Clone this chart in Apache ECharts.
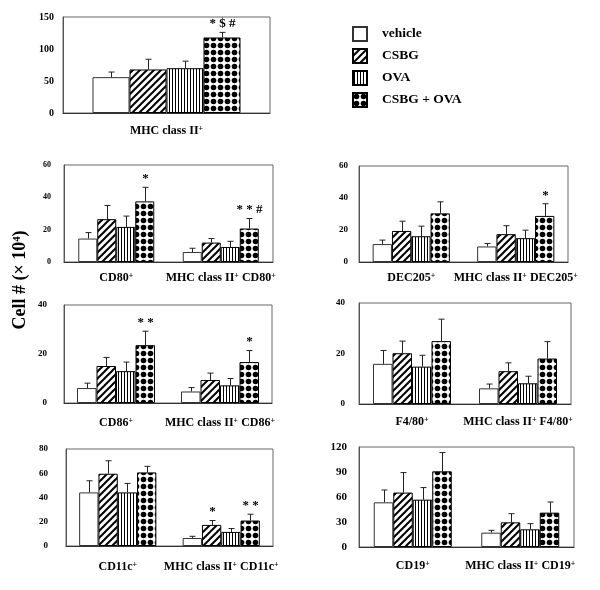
<!DOCTYPE html>
<html><head><meta charset="utf-8">
<script src="https://cdn.jsdelivr.net/npm/echarts@6/dist/echarts.min.js"></script>
<style>html,body{margin:0;padding:0;background:#fff}#c{width:600px;height:590px}</style>
</head><body><div id="c"></div>
<script>
// ---------- data ----------
const seriesNames = ['vehicle', 'CSBG', 'OVA', 'CSBG + OVA'];
const yTitle = 'Cell # (× 10⁴)';

const mhcCats = ['MHC class II+'];
const mhcMeans = [[56], [68], [70], [118]];
const mhcSD = [[8], [16], [11], [8]];
const mhcMarks = [[''], [''], [''], ['* $ #']];
const mhcAxis = [0, 150, 50];

const cd80Cats = ['CD80+', 'MHC class II+ CD80+'];
const cd80Means = [[14.5, 6.2], [26.5, 12], [21.7, 9.3], [37.5, 20.7]];
const cd80SD = [[3.7, 2.3], [8.5, 2.5], [6.7, 3.5], [8.7, 6.2]];
const cd80Marks = [['', ''], ['', ''], ['', ''], ['*', '* * #']];
const cd80Axis = [0, 60, 20];

const dec205Cats = ['DEC205+', 'MHC class II+ DEC205+'];
const dec205Means = [[11.2, 9.7], [19.4, 17.4], [16.1, 14.9], [30.4, 28.8]];
const dec205SD = [[2.5, 1.9], [6.1, 5.3], [6.3, 5.0], [7.2, 7.6]];
const dec205Marks = [['', ''], ['', ''], ['', ''], ['', '*']];
const dec205Axis = [0, 60, 20];

const cd86Cats = ['CD86+', 'MHC class II+ CD86+'];
const cd86Means = [[6.1, 4.7], [15.1, 9.4], [13.0, 7.2], [23.6, 16.7]];
const cd86SD = [[2.0, 1.6], [3.5, 2.8], [3.7, 2.8], [5.7, 4.7]];
const cd86Marks = [['', ''], ['', ''], ['', ''], ['* *', '*']];
const cd86Axis = [0, 40, 20];

const f480Cats = ['F4/80+', 'MHC class II+ F4/80+'];
const f480Means = [[15.9, 6.2], [20.1, 13.0], [14.8, 8.2], [24.9, 18.0]];
const f480SD = [[5.3, 1.7], [4.8, 3.3], [4.5, 2.8], [8.7, 6.7]];
const f480Marks = [['', ''], ['', ''], ['', ''], ['', '']];
const f480Axis = [0, 40, 20];

const cd11cCats = ['CD11c+', 'MHC class II+ CD11c+'];
const cd11cMeans = [[44.2, 6.6], [59.6, 17.4], [44.2, 11.6], [60.7, 21.0]];
const cd11cSD = [[9.6, 1.4], [10.7, 3.6], [7.4, 2.8], [5.0, 5.2]];
const cd11cMarks = [['', ''], ['', '*'], ['', ''], ['', '* *']];
const cd11cAxis = [0, 80, 20];

const cd19Cats = ['CD19+', 'MHC class II+ CD19+'];
const cd19Means = [[53.6, 17.2], [65.3, 29.6], [56.8, 21.2], [90.8, 41.2]];
const cd19SD = [[14.8, 2.8], [24, 10.4], [14.5, 6.8], [22.5, 12.8]];
const cd19Marks = [['', ''], ['', ''], ['', ''], ['', '']];
const cd19Axis = [0, 120, 30];

// ---------- styles ----------
const SERIF = '"Liberation Serif", "Times New Roman", serif';

function makeCanvas(w, h, draw) {
  const c = document.createElement('canvas');
  c.width = w; c.height = h;
  const g = c.getContext('2d');
  g.fillStyle = '#fff'; g.fillRect(0, 0, w, h);
  draw(g);
  return c;
}
const hatchCanvas = makeCanvas(7, 7, g => {
  g.strokeStyle = '#000'; g.lineWidth = 2;
  g.beginPath();
  g.moveTo(-1, 8); g.lineTo(8, -1);
  g.moveTo(-4, 4); g.lineTo(4, -4);
  g.moveTo(3, 11); g.lineTo(11, 3);
  g.stroke();
});
const vlineCanvas = makeCanvas(3, 3, g => {
  g.fillStyle = '#000'; g.fillRect(1, 0, 1, 3);
});
const dotCanvas = makeCanvas(7, 7, g => {
  g.fillStyle = '#000';
  g.beginPath(); g.arc(3.5, 3.5, 2.8, 0, Math.PI * 2); g.fill();
});
const fills = [
  '#ffffff',
  { image: hatchCanvas, repeat: 'repeat' },
  { image: vlineCanvas, repeat: 'repeat' },
  { image: dotCanvas, repeat: 'repeat' }
];
const borders = ['#333', '#000', '#000', '#000'];

const panels = [
  { cats: mhcCats, means: mhcMeans, sd: mhcSD, marks: mhcMarks, axis: mhcAxis,
    grid: { left: 63, top: 17, width: 207, height: 96 }, bw: 37, yFont: 10, yMargin: 9, xMargin: 12 },
  { cats: cd80Cats, means: cd80Means, sd: cd80SD, marks: cd80Marks, axis: cd80Axis,
    grid: { left: 64, top: 165, width: 209, height: 97 }, bw: 19, yFont: 8, yMargin: 13, xMargin: 10 },
  { cats: dec205Cats, means: dec205Means, sd: dec205SD, marks: dec205Marks, axis: dec205Axis,
    grid: { left: 359, top: 166, width: 209, height: 96 }, bw: 19.3, yFont: 9, yMargin: 11, xMargin: 10 },
  { cats: cd86Cats, means: cd86Means, sd: cd86SD, marks: cd86Marks, axis: cd86Axis,
    grid: { left: 64, top: 305, width: 208, height: 98 }, bw: 19.5, yFont: 9, yMargin: 17, xMargin: 14 },
  { cats: f480Cats, means: f480Means, sd: f480SD, marks: f480Marks, axis: f480Axis,
    grid: { left: 359, top: 303, width: 212, height: 101 }, bw: 19.5, yFont: 9, yMargin: 14, xMargin: 12 },
  { cats: cd11cCats, means: cd11cMeans, sd: cd11cSD, marks: cd11cMarks, axis: cd11cAxis,
    grid: { left: 66, top: 449, width: 207, height: 97 }, bw: 19.3, yFont: 9, yMargin: 18, xMargin: 15 },
  { cats: cd19Cats, means: cd19Means, sd: cd19SD, marks: cd19Marks, axis: cd19Axis,
    grid: { left: 359, top: 447, width: 215, height: 100 }, bw: 19.5, yFont: 11, yMargin: 12, xMargin: 13 }
];

const option = {
  animation: false,
  backgroundColor: '#fff',
  grid: [], xAxis: [], yAxis: [], series: [],
  legend: {
    orient: 'vertical', left: 352, top: 26, padding: 0, itemWidth: 14, itemHeight: 14, itemGap: 6,
    icon: 'rect', selectedMode: false, data: seriesNames,
    textStyle: { fontFamily: SERIF, fontWeight: 'bold', fontSize: 13.5, color: '#000', padding: [0, 0, 0, 10] }
  },
  graphic: [{
    type: 'text', x: 20, y: 280, rotation: Math.PI / 2,
    style: { text: yTitle, align: 'center', verticalAlign: 'middle',
      font: 'bold 18px ' + SERIF, fill: '#000' }
  }]
};

panels.forEach((p, k) => {
  option.grid.push(Object.assign({ show: true, borderColor: '#666', borderWidth: 1, backgroundColor: 'transparent' }, p.grid));
  option.xAxis.push({
    type: 'category', gridIndex: k, data: p.cats,
    axisTick: { show: false },
    axisLine: { lineStyle: { color: '#333', width: 1 } },
    axisLabel: {
      margin: p.xMargin, interval: 0, color: '#000',
      fontFamily: SERIF, fontWeight: 'bold', fontSize: 12,
      formatter: v => v.replace(/\+/g, '{sup|+}'),
      rich: { sup: { fontFamily: SERIF, fontWeight: 'bold', fontSize: 8, verticalAlign: 'top', color: '#000' } }
    }
  });
  option.yAxis.push({
    type: 'value', gridIndex: k, min: p.axis[0], max: p.axis[1], interval: p.axis[2],
    splitLine: { show: false }, axisTick: { show: false },
    axisLine: { show: true, lineStyle: { color: '#555' } },
    axisLabel: { margin: p.yMargin, color: '#000', fontFamily: SERIF, fontWeight: 'bold', fontSize: p.yFont }
  });
  seriesNames.forEach((name, i) => {
    option.series.push({
      type: 'bar', name: name, xAxisIndex: k, yAxisIndex: k,
      data: p.means[i], barWidth: p.bw, barGap: '0%', silent: true,
      itemStyle: { color: fills[i], borderColor: borders[i], borderWidth: 1 }
    });
  });
  seriesNames.forEach((name, i) => {
    option.series.push({
      type: 'custom', xAxisIndex: k, yAxisIndex: k, silent: true, z: 5,
      encode: { x: 0, y: 1 },
      data: p.means[i].map((m, j) => [j, m, p.sd[i][j]]),
      renderItem: (params, api) => {
        const j = api.value(0), m = api.value(1), s = api.value(2);
        const base = api.coord([j, m]);
        const top = api.coord([j, m + s]);
        const x = Math.round(base[0] + (i - 1.5) * p.bw) + 0.5;
        const children = [
          { type: 'line', shape: { x1: x, y1: base[1], x2: x, y2: top[1] }, style: { stroke: '#222', lineWidth: 1 } },
          { type: 'line', shape: { x1: x - 3, y1: top[1], x2: x + 3, y2: top[1] }, style: { stroke: '#222', lineWidth: 1 } }
        ];
        const mk = p.marks[i][params.dataIndex];
        if (mk) {
          children.push({ type: 'text', x: x, y: top[1] - 2,
            style: { text: mk, align: 'center', verticalAlign: 'bottom', font: 'bold 13px ' + SERIF, fill: '#000' } });
        }
        return { type: 'group', children: children };
      }
    });
  });
});

const chart = echarts.init(document.getElementById('c'), null, { renderer: 'canvas' });
chart.setOption(option);
</script>
</body></html>
